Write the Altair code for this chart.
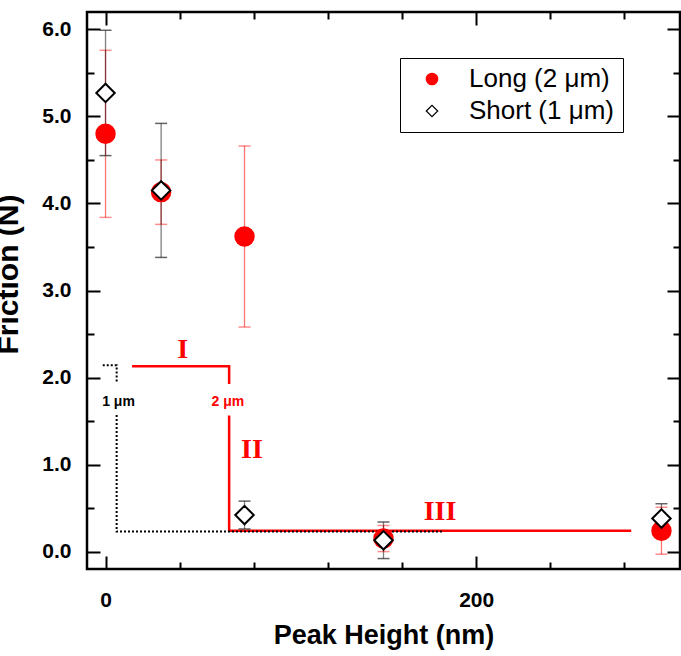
import altair as alt
import pandas as pd

# ---------------- data ----------------
peak_height = [0, 30, 75, 150, 300]
long_friction = [4.80, 4.13, 3.62, 0.15, 0.24]
long_error = [0.96, 0.37, 1.04, 0.15, 0.27]
short_friction = [5.27, 4.15, 0.42, 0.13, 0.38]
short_error = [0.72, 0.77, 0.16, 0.21, 0.17]
series_names = ["Long (2 μm)", "Short (1 μm)"]

# regime guide lines (data coordinates)
red_guide_x = [15, 66.7, 66.7, 66.7, 66.7, 283]
red_guide_y = [2.13, 2.13, 1.94, 1.55, 0.24, 0.24]
red_guide_seg = [0, 0, 0, 1, 1, 1]
black_guide_x = [-1.5, 6, 6, 6, 6, 181.5]
black_guide_y = [2.14, 2.14, 1.94, 1.57, 0.23, 0.23]
black_guide_seg = [0, 0, 0, 1, 1, 1]

regime_labels = ["I", "II", "III"]
regime_x = [41.6, 79, 180.5]
regime_y = [2.32, 1.17, 0.46]
length_labels = ["1 μm", "2 μm"]
length_x = [7, 66]
length_y = [1.72, 1.72]
length_colors = ["black", "red"]

# tick positions (major + minor)
x_ticks = [0, 10, 20, 30, 40, 50, 60, 70, 80, 90, 100, 110, 120, 130, 140, 150, 160, 170, 180,
           190, 200, 210, 220, 230, 240, 250, 260, 270, 280, 290, 300]
y_ticks = [0, 0.5, 1, 1.5, 2, 2.5, 3, 3.5, 4, 4.5, 5, 5.5, 6]
x_domain = [-10, 310]
y_domain = [-0.2, 6.2]

# ---------------- tables ----------------
rows = []
for name, ys_, es in [(series_names[0], long_friction, long_error),
                      (series_names[1], short_friction, short_error)]:
    for xv, yv, ev in zip(peak_height, ys_, es):
        rows.append({"x": xv, "y": yv, "lo": yv - ev, "hi": yv + ev, "series": name})
df = pd.DataFrame(rows)
df_long = df[df.series == series_names[0]]
df_short = df[df.series == series_names[1]]

red_guides = pd.DataFrame({"x": red_guide_x, "y": red_guide_y, "seg": red_guide_seg,
                           "o": list(range(len(red_guide_x)))})
black_guides = pd.DataFrame({"x": black_guide_x, "y": black_guide_y, "seg": black_guide_seg,
                             "o": list(range(len(black_guide_x)))})
regimes = pd.DataFrame({"x": regime_x, "y": regime_y, "t": regime_labels})
lengths = pd.DataFrame({"x": length_x, "y": length_y, "t": length_labels, "c": length_colors})

W, H = 593, 557
MAJ, MIN = 13, 7
xs = alt.Scale(domain=x_domain, nice=False, zero=False)
ys = alt.Scale(domain=y_domain, nice=False, zero=False)
FONT = "Liberation Sans"


def X(field="x"):
    return alt.X(f"{field}:Q", scale=xs)


def Y(field="y"):
    return alt.Y(f"{field}:Q", scale=ys)


# One axis per channel. Inward ticks on both edges come from dashed grid lines:
# a dash at each end of every grid line, long for major ticks, short for minor ticks.
x_lab = alt.Axis(
    orient="bottom", values=x_ticks, ticks=False, domain=False,
    labelExpr="datum.value % 50 === 0 ? datum.label : ''", labelOverlap=False, labelFlush=False,
    labelFontSize=21, labelFontWeight="bold", labelFont=FONT, labelPadding=20, labelColor="black",
    grid=True, gridColor="black", gridOpacity=1, gridWidth=2,
    gridDash={"condition": {"test": "datum.value % 50 !== 0", "value": [MIN, H - 2 * MIN, MIN, 60]},
              "value": [MAJ, H - 2 * MAJ, MAJ, 60]},
    title="Peak Height (nm)", titleFontSize=27, titleFontWeight="bold", titleFont=FONT,
    titlePadding=12, titleColor="black")
y_lab = alt.Axis(
    orient="left", values=y_ticks, ticks=False, domain=False,
    labelExpr="datum.value % 1 === 0 ? datum.label : ''", labelOverlap=False, labelFlush=False,
    labelFontSize=21, labelFontWeight="bold", labelFont=FONT, labelPadding=16, labelColor="black",
    grid=True, gridColor="black", gridOpacity=1, gridWidth=2,
    gridDash={"condition": {"test": "datum.value % 1 !== 0", "value": [MIN, W - 2 * MIN, MIN, 60]},
              "value": [MAJ, W - 2 * MAJ, MAJ, 60]},
    title="Friction (N)", titleFontSize=30, titleFontWeight="bold", titleFont=FONT,
    titlePadding=18, titleColor="black", titleY=262)
axis_layer = alt.Chart(df).mark_point(opacity=0).encode(
    x=alt.X("x:Q", scale=xs, axis=x_lab), y=alt.Y("y:Q", scale=ys, axis=y_lab))

# guide lines
red_line = alt.Chart(red_guides).mark_line(color="red", strokeWidth=2.5, strokeCap="square").encode(
    x=X(), y=Y(), detail="seg:N", order="o:Q")
black_line = alt.Chart(black_guides).mark_line(color="black", strokeWidth=2, strokeDash=[2, 2]).encode(
    x=X(), y=Y(), detail="seg:N", order="o:Q")

# error bars
red_err = alt.Chart(df_long).mark_rule(color="red", strokeWidth=1.3, opacity=0.55).encode(
    x=X(), y=Y("lo"), y2="hi:Q")
red_caps = alt.Chart(df_long).transform_fold(["lo", "hi"], as_=["k", "y"]).mark_tick(
    color="red", orient="horizontal", size=12, thickness=1.5, opacity=0.45).encode(x=X(), y=Y())
blk_err = alt.Chart(df_short).mark_rule(color="black", strokeWidth=1.3, opacity=0.5).encode(
    x=X(), y=Y("lo"), y2="hi:Q")
blk_caps = alt.Chart(df_short).transform_fold(["lo", "hi"], as_=["k", "y"]).mark_tick(
    color="#222", orient="horizontal", size=12, thickness=1.5).encode(x=X(), y=Y())

legend = alt.Legend(title=None, orient="none", legendX=313, legendY=46, padding=8,
                    symbolOffset=11, labelOffset=24, labelFontSize=26, labelFont=FONT,
                    labelColor="black", strokeColor="black", fillColor="white",
                    symbolSize=130, symbolStrokeWidth=1.2, rowPadding=6, labelLimit=300)

points = alt.Chart(df).mark_point(size=340, strokeWidth=2, opacity=1).encode(
    x=X(), y=Y(),
    shape=alt.Shape("series:N", scale=alt.Scale(domain=series_names, range=["circle", "diamond"]), legend=legend),
    fill=alt.Fill("series:N", scale=alt.Scale(domain=series_names, range=["red", "white"]), legend=legend),
    stroke=alt.Stroke("series:N", scale=alt.Scale(domain=series_names, range=["red", "black"]), legend=legend),
)

regime_text = alt.Chart(regimes).mark_text(font="Liberation Serif", fontWeight="bold", fontSize=28,
                                           color="red").encode(x=X(), y=Y(), text="t:N")
length_text = alt.Chart(lengths).mark_text(font=FONT, fontWeight="bold", fontSize=14).encode(
    x=X(), y=Y(), text="t:N", color=alt.Color("c:N", scale=None))

chart = alt.layer(
    axis_layer, red_line, black_line, red_err, red_caps, blk_err, blk_caps, points,
    regime_text, length_text
).properties(
    width=W, height=H,
    padding={"left": 87, "top": 12, "right": 1, "bottom": 87},
    autosize=alt.AutoSizeParams(type="none"),
    background="white",
).configure_view(stroke="black", strokeWidth=2.5)

chart.save("out.html", embed_options={"renderer": "svg", "actions": False})
